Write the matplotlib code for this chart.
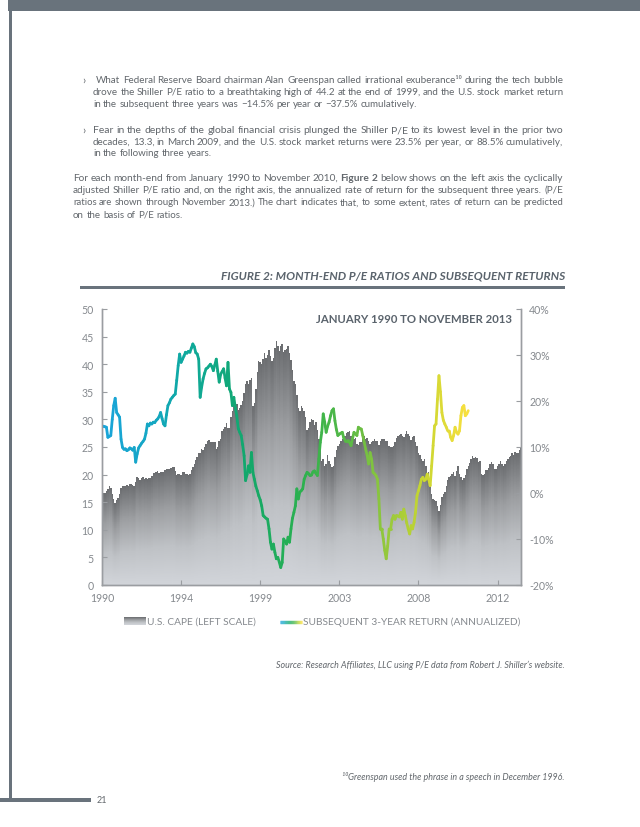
import matplotlib
matplotlib.use('Agg')
import matplotlib.pyplot as plt
import numpy as np
from matplotlib.collections import LineCollection
from matplotlib.colors import LinearSegmentedColormap
from matplotlib.patches import Rectangle

########################################################################################
# data: month-end values, Jan 1990 onwards
########################################################################################

# U.S. CAPE (left scale), Jan 1990 .. Nov 2013
cape = [
    17.0, 16.6, 16.7, 17.0, 17.4, 17.9, 17.6, 16.4, 15.6, 14.9, 15.3, 15.8,   # 1990
    16.4, 17.5, 17.9, 18.0, 18.0, 18.1, 18.0, 18.3, 18.2, 18.1, 18.0, 18.6,   # 1991
    19.5, 19.4, 19.1, 19.3, 19.5, 19.2, 19.4, 19.2, 19.3, 19.3, 19.7, 20.3,   # 1992
    20.3, 20.4, 20.6, 20.3, 20.5, 20.5, 20.5, 20.9, 21.0, 21.1, 21.0, 21.2,   # 1993
    21.4, 21.3, 20.6, 20.0, 20.1, 20.2, 20.0, 20.4, 20.5, 20.2, 20.1, 19.9,   # 1994
    20.2, 20.8, 21.3, 22.0, 22.6, 23.2, 23.9, 23.9, 24.6, 24.4, 25.1, 25.6,   # 1995
    26.2, 26.3, 25.8, 25.9, 25.9, 25.8, 24.7, 25.1, 26.1, 26.5, 27.9, 28.3,   # 1996
    28.7, 29.3, 28.4, 28.4, 30.5, 31.6, 33.4, 32.0, 32.8, 31.7, 32.1, 32.6,   # 1997
    33.4, 34.8, 36.5, 37.0, 36.4, 37.2, 37.5, 32.5, 33.0, 35.5, 38.5, 40.6,   # 1998
    40.4, 40.1, 41.0, 42.0, 41.1, 41.8, 42.6, 41.5, 40.6, 41.2, 43.0, 44.2,   # 1999
    43.3, 42.4, 43.4, 43.6, 42.2, 42.6, 42.9, 43.4, 42.1, 40.8, 39.0, 37.0,   # 2000
    36.5, 34.5, 32.0, 31.5, 32.5, 32.0, 31.5, 30.5, 28.0, 28.5, 29.5, 30.0,   # 2001
    29.8, 29.0, 29.5, 28.0, 26.5, 24.6, 22.5, 22.8, 21.6, 22.0, 23.5, 22.5,   # 2002
    22.0, 21.4, 21.6, 23.2, 24.5, 25.2, 25.6, 26.0, 26.4, 26.8, 27.0, 27.5,   # 2003
    27.7, 27.8, 27.0, 26.8, 26.4, 26.6, 25.6, 25.4, 25.8, 25.8, 26.6, 27.0,   # 2004
    26.4, 26.6, 26.0, 25.5, 25.8, 26.1, 26.4, 26.1, 26.0, 25.3, 26.0, 26.4,   # 2005
    26.4, 26.4, 26.2, 26.0, 25.2, 24.9, 24.9, 25.2, 25.8, 26.6, 27.0, 27.2,   # 2006
    27.4, 27.0, 26.8, 27.4, 27.8, 27.3, 26.9, 26.3, 26.8, 27.1, 25.8, 25.2,   # 2007
    24.0, 23.5, 22.8, 22.5, 22.8, 21.6, 20.0, 20.5, 18.5, 16.5, 15.6, 15.3,   # 2008
    15.2, 14.2, 13.3, 14.5, 15.9, 16.5, 16.8, 18.0, 19.0, 19.5, 19.8, 20.2,   # 2009
    20.5, 19.8, 20.6, 21.6, 20.2, 19.5, 19.0, 19.3, 20.0, 21.0, 21.5, 22.2,   # 2010
    22.8, 23.4, 23.0, 23.2, 23.0, 22.3, 22.5, 20.2, 20.0, 20.1, 20.8, 20.8,   # 2011
    21.2, 21.8, 22.3, 22.0, 21.0, 21.0, 21.5, 21.9, 22.4, 22.0, 21.5, 21.9,   # 2012
    22.4, 22.8, 23.2, 23.4, 24.0, 23.6, 24.1, 23.8, 24.0, 24.5, 25.0,         # 2013
]

# subsequent 3-year return, annualized (%), Jan 1990 .. Nov 2010
ret = [
    14.6, 14.5, 14.4, 14.3, 12.1, 12.3, 12.5, 16.0, 19.0, 20.6, 17.5, 17.0,   # 1990
    16.5, 11.7, 9.9, 9.5, 9.6, 9.2, 9.4, 9.8, 9.6, 9.3, 9.9, 6.7,            # 1991
    8.5, 9.8, 10.3, 10.8, 11.2, 11.7, 13.0, 15.0, 14.6, 15.2, 15.0, 15.4,     # 1992
    15.3, 15.8, 16.1, 16.6, 17.5, 16.2, 15.0, 14.6, 17.0, 19.0, 19.6, 20.4,   # 1993
    20.8, 21.2, 21.5, 24.5, 27.7, 30.2, 28.4, 29.1, 29.8, 30.6, 30.4, 30.8,   # 1994
    30.6, 31.5, 32.4, 31.8, 30.5, 30.2, 29.1, 20.8, 23.0, 24.8, 26.0, 27.0,   # 1995
    27.2, 27.6, 28.0, 27.5, 26.6, 27.8, 29.1, 26.5, 24.1, 25.8, 26.4, 27.0,   # 1996
    25.0, 23.3, 28.4, 22.6, 21.9, 19.0, 20.8, 18.5, 16.8, 14.0, 13.2, 12.5,   # 1997
    10.5, 8.1, 2.7, 4.0, 5.9, 4.5, 8.8, 4.5, 3.0, 1.5, 0.5, -0.6,             # 1998
    -1.5, -2.8, -4.9, -5.2, -5.5, -5.7, -7.8, -10.7, -12.2, -11.1, -12.9, -14.3,  # 1999
    -14.0, -15.0, -16.2, -15.1, -10.0, -10.5, -11.1, -9.6, -10.7, -7.8, -5.5, -4.2,  # 2000
    -2.8, 0.9, -1.3, 0.2, 0.5, 0.9, 3.0, 3.8, 4.5, 4.2, 3.8, 3.9,             # 2001
    4.6, 4.8, 4.3, 3.8, 7.4, 11.0, 13.2, 17.2, 15.4, 13.2, 14.5, 15.4,        # 2002
    16.8, 17.9, 18.3, 15.7, 13.8, 12.5, 12.8, 13.0, 13.2, 12.0, 11.4, 11.4,   # 2003
    11.4, 11.0, 10.3, 11.8, 13.2, 12.8, 12.5, 14.3, 14.0, 13.9, 12.5, 11.0,   # 2004
    9.5, 8.1, 6.3, 8.8, 7.4, 4.5, 4.2, 3.8, 3.0, -1.3, -7.8, -7.8,           # 2005
    -10.0, -12.5, -14.3, -11.5, -7.8, -7.8, -5.7, -4.9, -5.7, -4.9, -5.0, -5.2,  # 2006
    -4.2, -5.7, -3.5, -4.9, -6.5, -7.8, -8.9, -7.1, -7.8, -6.4, -4.2, -0.6,   # 2007
    0.5, 1.6, 3.0, 3.4, 2.7, 3.0, 4.1, 3.0, 1.6, 5.9, 10.3, 14.6,             # 2008
    15.0, 20.4, 25.5, 22.0, 17.5, 15.8, 15.0, 14.3, 13.5, 13.5, 12.1, 11.4,   # 2009
    12.5, 14.3, 13.2, 12.8, 13.5, 16.8, 18.6, 19.0, 16.8, 17.2, 17.9,         # 2010
]

year_labels = ['1990', '1994', '1999', '2003', '2008', '2012']
tick_every = 54   # months between labelled ticks

########################################################################################
# look
########################################################################################
GREY_TXT = '#62676c'
TICK_TXT = '#85898e'
TITLE_C = '#5a636c'
BAR_C = '#69737c'
AXIS_C = '#9a9da1'
FONT = ['Lato', 'DejaVu Sans']

cape_cmap = LinearSegmentedColormap.from_list(
    'cape', ['#d2d5da', '#bfc2c6', '#9c9ea1', '#6c6e71'])
ret_cmap = LinearSegmentedColormap.from_list('ret', [
    (0.00, '#1aa5da'), (0.15, '#14a7c0'), (0.22, '#0fa9a0'), (0.40, '#12a86a'),
    (0.55, '#2db14e'), (0.68, '#5cba46'), (0.78, '#95c83c'), (0.88, '#c8d631'),
    (1.00, '#f8e03f')])

plt.rcParams['font.family'] = FONT

fig = plt.figure(figsize=(6.4, 8.28), dpi=100)

# page layer in pixel coordinates
pg = fig.add_axes([0, 0, 1, 1])
pg.axis('off')
pg.set_xlim(0, 640)
pg.set_ylim(828, 0)

def T(x, y, s, size=7.0, color=GREY_TXT, **kw):
    return pg.text(x, y, s, fontsize=size, color=color, va='center', **kw)

fig.canvas.draw()
rend = fig.canvas.get_renderer()

def width(a):
    return a.get_window_extent(renderer=rend).width

def space_width(size):
    t1 = pg.text(0, 0, 'a a', fontsize=size)
    t2 = pg.text(0, 0, 'aa', fontsize=size)
    sp = width(t1) - width(t2)
    t1.remove()
    t2.remove()
    return sp

def line(x0, y, words, size, x1=None):
    # one word per text, all on one baseline; a full line is sized and justified to end at x1
    arts = [pg.text(x0, y + 2.6, w, fontsize=size, color=GREY_TXT, va='baseline', fontweight=wt)
            for w, wt in words]
    sp = space_width(size)
    if x1 is not None:
        natural = sum(width(a) for a in arts) + sp * (len(arts) - 1)
        size = size * (x1 - x0) / natural
        for a in arts:
            a.set_fontsize(size)
        sp = space_width(size)
        ws = [width(a) for a in arts]
        sp = (x1 - x0 - sum(ws)) / (len(arts) - 1)
    x = x0
    for a in arts:
        a.set_x(x)
        x += width(a) + sp

def para(x_first, x_rest, y0, dy, lines, size, x1=563):
    for i, ln in enumerate(lines):
        words = []
        for chunk, wt in ln:
            words += [(w, wt) for w in chunk.split(' ') if w]
        last = i == len(lines) - 1
        line(x_first if i == 0 else x_rest, y0 + i * dy, words, size, None if last else x1)

def N(s):
    return [(s, 'normal')]

# page frame
pg.add_patch(Rectangle((8, 0), 632, 12, color=BAR_C, lw=0))
pg.add_patch(Rectangle((9, 0), 3, 803, color=BAR_C, lw=0))
pg.add_patch(Rectangle((0, 799), 91, 4, color=BAR_C, lw=0))
T(97, 801, '21', size=6.5)

# body text
bsz = 7.05
T(82, 80.5, '›', size=bsz + 1)
para(96, 93, 80.5, 11.8, [
    N('What Federal Reserve Board chairman Alan Greenspan called irrational exuberance¹⁰ during the tech bubble'),
    N('drove the Shiller P/E ratio to a breathtaking high of 44.2 at the end of 1999, and the U.S. stock market return'),
    N('in the subsequent three years was −14.5% per year or −37.5% cumulatively.')], bsz)
T(82, 130.5, '›', size=bsz + 1)
para(93, 93, 130.5, 11.5, [
    N('Fear in the depths of the global financial crisis plunged the Shiller P/E to its lowest level in the prior two'),
    N('decades, 13.3, in March 2009, and the U.S. stock market returns were 23.5% per year, or 88.5% cumulatively,'),
    N('in the following three years.')], bsz)
para(73, 73, 178, 12.35, [
    [('For each month-end from January 1990 to November 2010,', 'normal'), ('Figure 2', 'bold'),
     ('below shows on the left axis the cyclically', 'normal')],
    N('adjusted Shiller P/E ratio and, on the right axis, the annualized rate of return for the subsequent three years. (P/E'),
    N('ratios are shown through November 2013.) The chart indicates that, to some extent, rates of return can be predicted'),
    N('on the basis of P/E ratios.')], bsz)

# figure title + rule
T(565, 276.5, 'FIGURE 2: MONTH-END P/E RATIOS AND SUBSEQUENT RETURNS', size=8.6,
  color=TITLE_C, ha='right', fontweight='bold', style='italic')
pg.add_patch(Rectangle((80, 286.5), 485, 3, color=BAR_C, lw=0))

# legend
grad = np.linspace(1, 0, 20)[:, None] * np.ones((1, 10))
pg.imshow(grad, cmap=cape_cmap, extent=(124, 146, 626, 618.5), aspect='auto', vmin=0, vmax=1)
T(147, 622, 'U.S. CAPE (LEFT SCALE)', size=7.3, color=TICK_TXT)
lx = np.linspace(280, 302, 30)
lsegs = [[(lx[i], 622.5), (lx[i + 1], 622.5)] for i in range(len(lx) - 1)]
pg.add_collection(LineCollection(lsegs, colors=ret_cmap(np.linspace(0, 1, len(lsegs))), linewidths=2.4))
T(303, 622, 'SUBSEQUENT 3-YEAR RETURN (ANNUALIZED)', size=7.3, color=TICK_TXT)

# source + footnote
T(565, 665, 'Source: Research Affiliates, LLC using P/E data from Robert J. Shiller’s website.',
  size=6.4, ha='right', style='italic')
T(565, 777, '¹⁰Greenspan used the phrase in a speech in December 1996.', size=6.4, ha='right', style='italic')

pg.set_xlim(0, 640)
pg.set_ylim(828, 0)

########################################################################################
# chart
########################################################################################
cape = np.array(cape)
ret = np.array(ret) / 100.0
n = len(cape)
months = np.arange(n)

ax = fig.add_axes([102 / 640, 1 - 586 / 828, 419 / 640, 276 / 828])
ax.set_facecolor('none')

# each month is a bar shaded dark at its top and light at its foot
yy = np.linspace(0, 50, 600)[:, None]
frac = yy / cape[None, :]
frac = np.ma.masked_where(frac > 1, frac)
ax.imshow(frac, cmap=cape_cmap, origin='lower', extent=(-0.5, n - 0.5, 0, 50),
          aspect='auto', interpolation='nearest', vmin=0, vmax=1)
ax.set_xlim(0, n - 1)
ax.set_ylim(0, 50)
ax.set_yticks(np.arange(0, 51, 5))
ax.set_xticks(months[::tick_every])
ax.set_xticklabels(year_labels)

ax2 = ax.twinx()
ax2.set_ylim(-0.2, 0.4)
ax2.set_yticks(np.arange(-0.2, 0.41, 0.1))
ax2.set_yticklabels(['{:.0f}%'.format(v * 100) for v in np.arange(-0.2, 0.41, 0.1)])
pts = np.column_stack([np.arange(len(ret)), ret])
segs = np.stack([pts[:-1], pts[1:]], axis=1)
lc = LineCollection(segs, colors=ret_cmap(np.linspace(0, 1, len(segs))), linewidths=2.0,
                    capstyle='round', joinstyle='round')
ax2.add_collection(lc)

for a in (ax, ax2):
    a.spines['top'].set_visible(False)
    for side in ('left', 'right', 'bottom'):
        a.spines[side].set_color(AXIS_C)
        a.spines[side].set_linewidth(1.0)
    a.tick_params(direction='in', length=3.5, width=0.8, color=AXIS_C,
                  labelsize=7.6, labelcolor=TICK_TXT, pad=6)
ax.tick_params(axis='x', pad=5)

ax.text(0.978, 0.985, 'JANUARY 1990 TO NOVEMBER 2013', transform=ax.transAxes, ha='right', va='top',
        fontsize=8.2, fontweight='bold', color=TITLE_C)

fig.savefig('out.png', dpi=100)
